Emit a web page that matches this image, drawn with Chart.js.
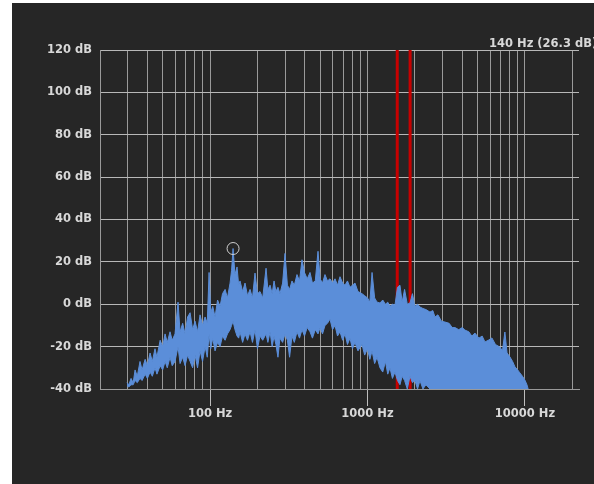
<!DOCTYPE html>
<html><head><meta charset="utf-8">
<script src="https://cdn.jsdelivr.net/npm/chart.js@4/dist/chart.umd.min.js"></script>
<style>html,body{margin:0;padding:0;background:#fff;overflow:hidden}#wrap{position:absolute;left:0;top:0;width:594px;height:484px}</style>
</head><body><div id="wrap"><canvas id="c"></canvas></div>
<script>
// Spectrum (frequency in Hz, upper / lower envelope of the dense trace in dB)
const freqHz = [29.7,30.5,31.5,32.5,33.4,34.5,35.9,37.0,38.7,40.0,41.6,43.0,44.7,46.0,48.2,50.0,51.8,53.5,55.7,57.5,59.9,62.6,64.5,67,69.4,72,74.7,77.5,80.3,83.3,86.4,89.6,93,96,98.6,101,104,107.6,111.6,115.8,120,124.6,129,134,137,140,144,148.4,152,155,161,166.8,173,179.5,186,193,200,207.6,216,226.8,233,240.5,248,255,262,270,278,289,299.4,310,320,331.5,343,356.6,370,383.8,398,414,431.5,447,466,485,500,518,537,557,578,600,622,645,669,695,720,746,774,803,833,870,923,960,1000,1035,1069,1110,1150,1200,1250,1300,1345,1389,1440,1495,1550,1608,1660,1720,1790,1862,1930,2000,2080,2154,2250,2350,2494,2600,2683,2800,2950,3105,3300,3450,3594,3800,4000,4159,4400,4600,4814,5100,5350,5572,5850,6170,6500,6934,7200,7459,7700,8035,8350,8650,9000,9290,9650,10000,10300,10480];
const upperDb = [-37,-38,-35,-37,-31,-34,-27,-31,-26,-29,-23,-27,-21,-25,-17,-20,-14,-18,-13,-17,-14,1,-13,-9,-14,-6,-4,-12,-8,-13,-5,-10,-6,-9,15,-4,-1,-6,2,-1,5,7,3,10,16,26.3,14,17.6,9,11,6,10,4,7,3,14.7,5,6,3,17,7,9,5,11,6,8,5,10,24,9,7,11,9,14,11,21,15,12,15,10,11,25,12,10,14,11,12,10,12,9,13,10,9,11,8,9,10,6,5,4,3,1,15,3,1,0.6,2,0,1,-1,0,-0.4,8,9,1,7,0,0.6,5,-1,0,-1.3,-2,-2.5,-3.7,-3,-6,-5,-8,-8.4,-9,-11,-11,-12,-11,-12.2,-13,-15,-13.6,-16,-15,-17.8,-17,-15.9,-19,-20.2,-22,-13.1,-23,-24.9,-27,-29.6,-31,-32.4,-34,-35.8,-38,-40];
const lowerDb = [-38.5,-39,-38,-38,-36,-37,-35,-36,-33,-35,-32,-34,-30,-33,-29,-31,-27,-30,-25,-29,-27,-20,-28,-25,-29,-24,-27,-30,-24,-30,-22,-27,-20,-25,-14,-21,-16,-22,-18,-20,-15,-17,-14,-12,-10,-8,-12,-15,-16,-13,-18,-14,-17,-13,-18,-12,-21,-15,-17,-14,-18,-13,-20,-15,-19,-25,-16,-18,-14,-17,-25,-15,-18,-13,-16,-12,-15,-11,-13,-16,-12,-14,-11,-14,-10,-9,-7,-12,-10,-15,-13,-17,-14,-19,-16,-21,-18,-22,-19,-24,-21,-26,-22,-28,-25,-30,-32,-27,-33,-30,-35,-32,-36,-38,-34,-36,-40,-34,-37,-36,-40,-36,-40,-38,-40,-40,-40,-40,-40,-40,-40,-40,-40,-40,-40,-40,-40,-40,-40,-40,-40,-40,-40,-40,-40,-40,-40,-40,-40,-40,-40,-40,-40,-40,-40,-40,-40,-40,-40,-40,-40];
// Red cursor lines
const markerFreqsHz = [1545, 1865];
// Peak marker
const peakFreqHz = 140;
const peakDb = 26.3;
// Axes
const yMinDb = -40, yMaxDb = 120, yStepDb = 20;
const xMinHz = 20, xMaxHz = 22050;
const xLabelHz = [100, 1000, 10000];
const xGridHz = [20,30,40,50,60,70,80,90,100,200,300,400,500,600,700,800,900,1000,2000,3000,4000,5000,6000,7000,8000,9000,10000,20000];

const FONT = {family: "'DejaVu Sans', sans-serif", size: 11.5, weight: 'bold'};
const TXT = '#d8d8d8';
const BLUE = '#5b8ed9';

const spectrumUpper = freqHz.map((f, i) => ({x: f, y: upperDb[i]}));
const spectrumLower = freqHz.map((f, i) => ({x: f, y: lowerDb[i]}));
const redSets = markerFreqsHz.map(f => ({
  data: [{x: f, y: yMinDb}, {x: f, y: yMaxDb}],
  borderColor: '#c80000', borderWidth: 3, pointRadius: 0, fill: false
}));

const bgPlugin = {
  id: 'bg',
  beforeDraw(chart) {
    const c = chart.ctx;
    c.save();
    c.fillStyle = '#ffffff';
    c.fillRect(0, 0, chart.width, chart.height);
    c.fillStyle = '#262626';
    c.fillRect(12, 3, chart.width - 12, chart.height - 3);
    c.restore();
  }
};
const labelPlugin = {
  id: 'peakLabel',
  afterDraw(chart) {
    const c = chart.ctx;
    c.save();
    c.font = `bold ${FONT.size}px ${FONT.family}`;
    c.fillStyle = TXT;
    c.textAlign = 'left';
    c.textBaseline = 'middle';
    c.fillText(`${peakFreqHz} Hz (${peakDb} dB)`, 489, 44);
    c.restore();
  }
};

new Chart(document.getElementById('c'), {
  type: 'line',
  data: {
    datasets: [
      {type: 'scatter', data: [{x: peakFreqHz, y: peakDb}], pointRadius: 6, pointBorderWidth: 1,
       pointBorderColor: '#d0d0d0', pointBackgroundColor: 'rgba(0,0,0,0)', showLine: false},
      {data: spectrumUpper, borderColor: BLUE, backgroundColor: BLUE, borderWidth: 1, pointRadius: 0, fill: '+1', tension: 0},
      {data: spectrumLower, borderColor: BLUE, borderWidth: 1, pointRadius: 0, fill: false, tension: 0},
      ...redSets
    ]
  },
  options: {
    responsive: true, maintainAspectRatio: false, animation: false,
    layout: {padding: {top: 50, right: 15, left: 0, bottom: 0}},
    plugins: {legend: {display: false}, tooltip: {enabled: false}},
    scales: {
      x: {
        type: 'logarithmic', min: xMinHz, max: xMaxHz,
        afterBuildTicks(scale) { scale.ticks = xGridHz.map(v => ({value: v})); },
        afterFit(scale) { scale.height = 95; },
        ticks: {
          autoSkip: false, maxRotation: 0, minRotation: 0, padding: 1,
          color: TXT, font: FONT,
          callback: (v) => xLabelHz.includes(v) ? v + ' Hz' : ''
        },
        grid: {
          color: '#9a9a9a', lineWidth: 1, tickLength: 17,
          tickColor: (ctx) => (ctx.tick && xLabelHz.includes(ctx.tick.value)) ? '#bdbdbd' : 'rgba(0,0,0,0)'
        },
        border: {display: true, color: '#9a9a9a'}
      },
      y: {
        min: yMinDb, max: yMaxDb,
        afterFit(scale) { scale.width = 100; },
        ticks: {stepSize: yStepDb, color: TXT, font: FONT, padding: 8, callback: (v) => v + ' dB'},
        grid: {color: '#b8b8b8', drawTicks: false},
        border: {display: true, color: '#9a9a9a'}
      }
    }
  },
  plugins: [bgPlugin, labelPlugin]
});
</script>
</body></html>
